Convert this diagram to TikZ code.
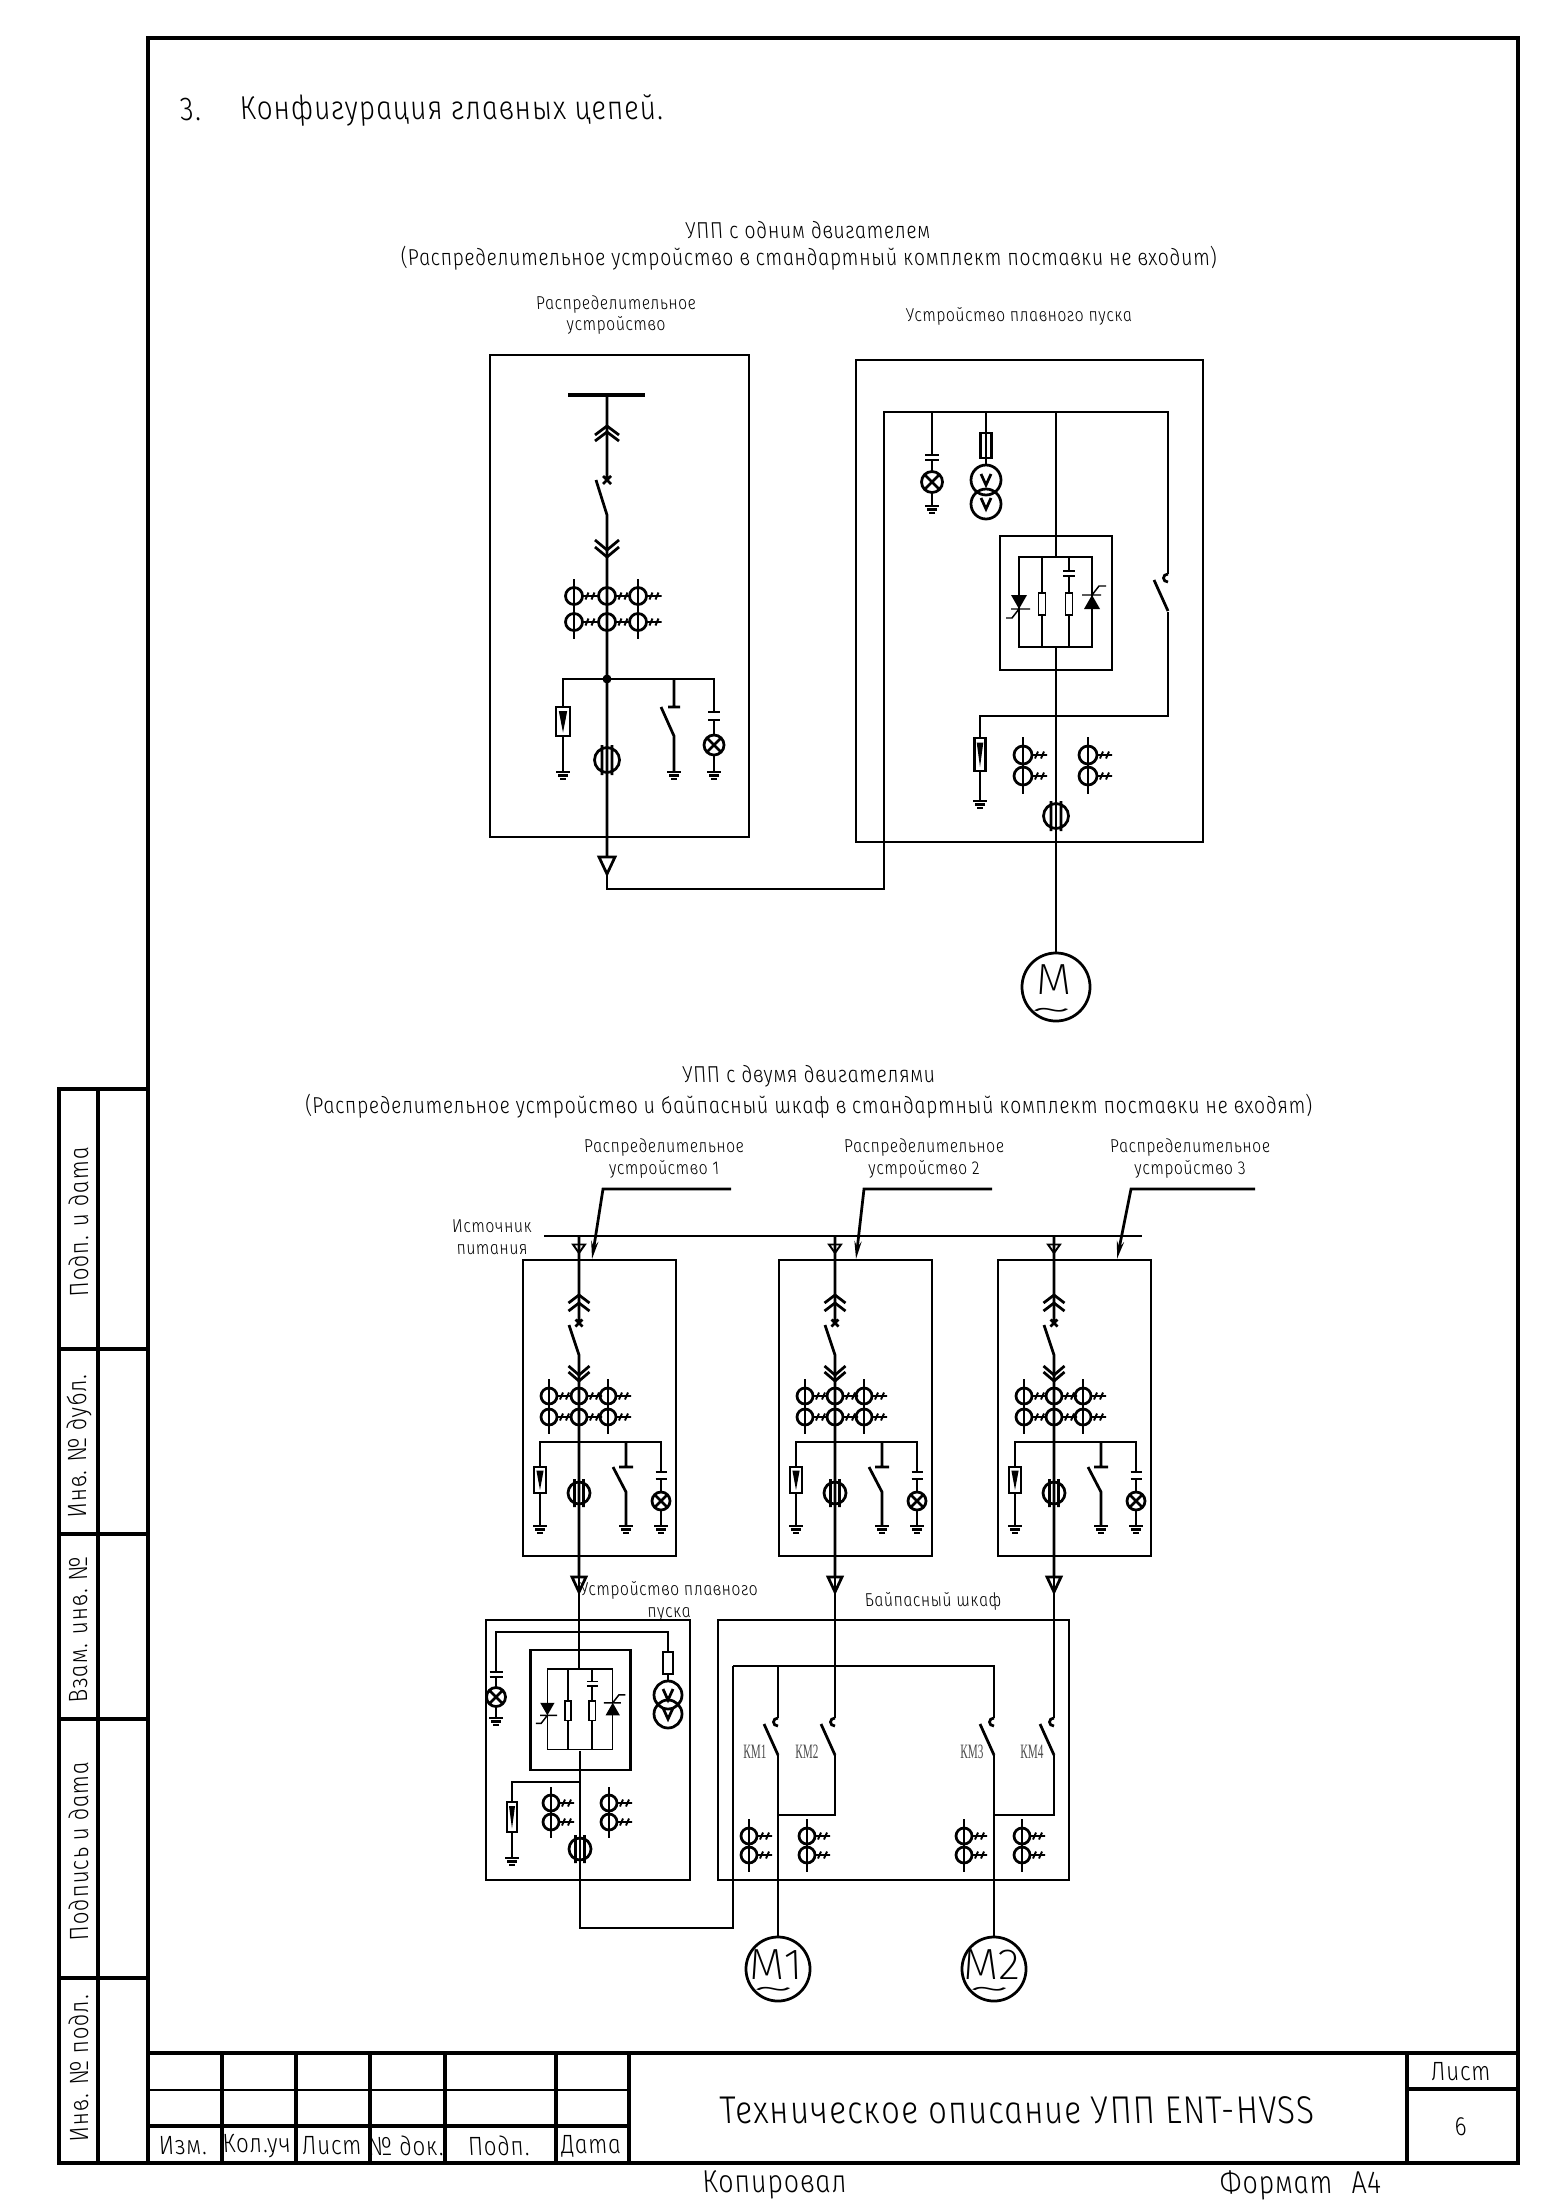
\documentclass[tikz,border=0pt]{standalone}
\usepackage{fontspec}
\newfontfamily\gost[FakeSlant=-0.18,FakeStretch=0.85,LetterSpace=3]{Fira Sans Light Italic}
\newfontfamily\gostthin[FakeSlant=-0.18,FakeStretch=1.05]{Fira Sans ExtraLight Italic}
\newfontfamily\kmfont[FakeStretch=0.55]{Liberation Serif}
\usetikzlibrary{arrows.meta}
\tikzset{
  wire/.style={line width=0.78pt},
  tick/.style={line width=0.55pt},
  hair/.style={line width=0.42pt},
  sheet/.style={line width=1.25pt},
  rowline/.style={line width=0.6pt},
  label/.style={inner sep=0pt,align=center,font=\gost\fontsize{5.3}{6.2}\selectfont},
  head/.style={inner sep=0pt,align=center,font=\gost\fontsize{6.55}{7.5}\selectfont},
  stamp/.style={inner sep=0pt,font=\gost\fontsize{7.5}{8}\selectfont},
  kmtag/.style={inner sep=0pt,text=black!70,font=\kmfont\fontsize{5.8}{6}\selectfont},
  motor/.style={draw,circle,wire,inner sep=0pt,minimum size=#1},
  motorname/.style={inner sep=0pt,font=\gostthin\fontsize{12.4}{13}\selectfont},
  motorwave/.style={inner sep=0pt,xscale=2.4,text height=1pt,text depth=0pt,font=\gostthin\fontsize{11}{12}\selectfont},
  pics/gnd/.style={code={\draw[wire] (-7,0)--(7,0) (-5,3.5)--(5,3.5) (-3,7)--(3,7);}},
  pics/lamp/.style={code={\draw[wire] (0,0) circle (#1) (-#1*.7,-#1*.7)--(#1*.7,#1*.7) (-#1*.7,#1*.7)--(#1*.7,-#1*.7);}},
  pics/plates/.style n args={2}{code={\draw[wire] (-#1,0)--(#1,0) (-#1,#2)--(#1,#2);}},
  pics/arrester/.style n args={2}{code={
    \draw[wire] (-#1,0) rectangle (#1,#2);
    \fill (-#1*.6,#2*.14)--(#1*.6,#2*.14)--(0,#2*.88)--cycle;}},
  pics/ctstack/.style n args={3}{code={
    \foreach \rowy in {0,#2}{
      \draw[wire] (0,\rowy) circle (#1);
      \draw[tick] (#1,\rowy)--++(15,0) (#1+3,\rowy+3.5)--++(3,-7) (#1+9,\rowy+3.5)--++(3,-7);
    }
    \draw[wire] (0,-#3)--(0,#2+#3);}},
  pics/zeroct/.style n args={3}{code={
    \draw[wire] (0,0) circle (#1) (-#2,-#3)--(-#2,#3) (#2,-#3)--(#2,#3);}},
  pics/plugup/.style n args={3}{code={
    \draw[wire] (-#1,#2)--(0,0)--(#1,#2) (-#1,#2+#3)--(0,#3)--(#1,#2+#3);}},
  pics/plugdown/.style n args={3}{code={
    \draw[wire] (-#1,-#2)--(0,0)--(#1,-#2) (-#1,-#2-#3)--(0,-#3)--(#1,-#2-#3);}},
  pics/contact/.style={code={
    \draw[wire] (0,-4) .. controls (-6,-4) and (-6,4) .. (0,4);
    \draw[wire] (0,33)--(-14,2);}},
  pics/softcore/.style={code={
    \draw[wire] (-56,0) rectangle (56,134);
    \draw[hair] (-37,21) rectangle (36,111) (-14,21)--(-14,57) (-14,79)--(-14,111);
    \draw[hair] (13,21)--(13,35) (13,40)--(13,57) (13,79)--(13,111);
    \draw[hair] (-17.5,57) rectangle (-10.5,79) (9.5,57) rectangle (16.5,79);
    \draw[hair] (7,35)--(19,35) (7,40)--(19,40);
    \fill (-45,59)--(-29,59)--(-37,73)--cycle;
    \fill (36,59)--(28,73)--(44,73)--cycle;
    \draw[hair] (-45,73)--(-26,73) (-37,73)--(-44,82)--(-50,82);
    \draw[hair] (26,59)--(45,59) (36,59)--(43,50)--(50,50);}},
  pics/gearcell/.style={code={
    \draw[wire] (-56,0) rectangle (97,296);
    \draw[tick] (-6,-15.5)--(6,-15.5)--(0,-7)--cycle;
    \draw[wire] (0,-24)--(0,63) (-3.5,59.5)--(3.5,66.5) (-3.5,66.5)--(3.5,59.5);
    \draw[wire] (-10,65)--(0,95)--(0,317);
    \pic at (0,35) {plugup={10.5}{8}{8}};
    \pic at (0,121) {plugdown={10.5}{9}{6}};
    \foreach \colx in {-30,0,29}{\pic at (\colx,136) {ctstack={8}{21}{17}};}
    \draw[wire] (-39,207)--(-39,182)--(82,182)--(82,212);
    \pic at (-39,207) {arrester={6}{26}};
    \draw[wire] (-39,233)--(-39,266);
    \pic at (-39,266) {gnd};
    \pic at (0,233) {zeroct={11}{4.5}{14}};
    \draw[wire] (47,182)--(47,207) (40,207)--(54,207) (34,207)--(47,232)--(47,266);
    \pic at (47,266) {gnd};
    \pic at (82,212) {plates={5.5}{7}};
    \draw[wire] (82,219)--(82,232) (82,250)--(82,266);
    \pic at (82,241) {lamp=9};
    \pic at (82,266) {gnd};
    \draw[wire] (-7,317)--(7,317)--(0,332)--cycle;}}
}
\begin{document}
\begin{tikzpicture}[x=0.01cm,y=-0.01cm]
\useasboundingbox (0,0) rectangle (1555,2200);
% sheet frame
\draw[sheet] (148,38) rectangle (1518,2163);
\draw[sheet] (148,1089)--(59,1089)--(59,2163)--(148,2163) (98,1089)--(98,2163);
\foreach \liney in {1349,1534,1719,1978}{\draw[sheet] (59,\liney)--(148,\liney);}
\draw[sheet] (148,2053)--(1518,2053) (148,2126)--(629,2126);
\draw[rowline] (148,2090)--(629,2090);
\foreach \colx in {222,296,370,445,556,629}{\draw[sheet] (\colx,2053)--(\colx,2163);}
\draw[sheet] (1407,2053)--(1407,2163) (1407,2089)--(1518,2089);
% side stamps
\node[stamp,rotate=90] (sideA) at (79,1221) {Подп. и дата};
\node[stamp,rotate=90] (sideB) at (79,1445) {Инв. № дубл.};
\node[stamp,rotate=90] (sideC) at (79,1628) {Взам. инв. №};
\node[stamp,rotate=90] (sideD) at (79,1850) {Подпись и дата};
\node[stamp,rotate=90] (sideE) at (79,2067) {Инв. № подл.};
% title block
\node[stamp] (izm) at (184,2146) {Изм.};
\node[stamp] (kol) at (258,2146) {Кол.уч};
\node[stamp] (lst) at (333,2146) {Лист};
\node[stamp] (ndok) at (407,2146) {№ док.};
\node[stamp] (podp) at (500,2146) {Подп.};
\node[stamp] (data) at (592,2146) {Дата};
\node[stamp] (lstB) at (1462,2072) {Лист};
\node[stamp] (lstN) at (1462,2127) {6};
\node[stamp,font=\gost\fontsize{11}{12}\selectfont] (title) at (1019,2110) {Техническое описание УПП ENT-HVSS};
\node[stamp,font=\gost\fontsize{9}{10}\selectfont] (copied) at (776,2185) {Копировал};
\node[stamp,font=\gost\fontsize{9}{10}\selectfont] (fmt) at (1302,2185) {Формат\hspace{3pt} А4};
% headings
\node[stamp,font=\gost\fontsize{9.4}{10}\selectfont,anchor=west] (secno) at (181,110) {3.};
\node[stamp,font=\gost\fontsize{9.4}{10}\selectfont,anchor=west] (sec) at (241,110) {Конфигурация главных цепей.};
\node[head] (oneA) at (809,230) {УПП с одним двигателем};
\node[head] (oneB) at (810,258) {(Распределительное устройство в стандартный комплект поставки не входит)};
\node[label] (gearA) at (617,315) {Распределительное\\устройство};
\node[label] (softA) at (1020,316) {Устройство плавного пуска};
\node[head] (twoA) at (810,1076) {УПП с двумя двигателями};
\node[head] (twoB) at (810,1106) {(Распределительное устройство и байпасный шкаф в стандартный комплект поставки не входят)};
% one motor: switchgear
\coordinate (busA) at (607,395);
\draw[wire] (490,355) rectangle (749,837);
\draw[line width=1.1pt] (568,395)--(645,395);
\draw[wire] (busA)--(607,480) (603,476)--(611,484) (603,484)--(611,476);
\draw[wire] (596,480)--(607,515)--(607,857);
\pic at (607,426) {plugup={12}{9}{6}};
\pic at (607,557) {plugdown={12}{10}{7}};
\foreach \colx in {574,607,638}{\pic at (\colx,596) {ctstack={8.5}{26}{17}};}
\fill (607,679) circle (4.5);
\draw[wire] (563,707)--(563,679)--(714,679)--(714,712);
\pic at (563,707) {arrester={7}{29}};
\draw[wire] (563,736)--(563,772);
\pic at (563,772) {gnd};
\pic at (607,760) {zeroct={12.5}{5}{15}};
\draw[wire] (674,679)--(674,707) (668,707)--(680,707) (661,707)--(674,736)--(674,772);
\pic at (674,772) {gnd};
\pic at (714,712) {plates={6}{8}};
\draw[wire] (714,720)--(714,735) (714,755)--(714,772);
\pic at (714,745) {lamp=10};
\pic at (714,772) {gnd};
\draw[wire] (599,857)--(615,857)--(607,874)--cycle;
% one motor: soft starter
\coordinate (motA) at (1056,953);
\draw[wire] (856,360) rectangle (1203,842);
\draw[wire] (607,874)--(607,889)--(884,889)--(884,412)--(1168,412)--(1168,574);
\draw[wire] (1056,412)--(1056,557) (1056,647)--(motA);
\pic at (1056,536) {softcore};
\pic at (1168,578) {contact};
\draw[wire] (1168,612)--(1168,716)--(980,716)--(980,738) (980,771)--(980,801);
\pic at (980,738) {arrester={5.5}{33}};
\pic at (980,801) {gnd};
\foreach \colx in {1023,1088}{\pic at (\colx,755) {ctstack={9}{21}{18}};}
\pic at (1056,816) {zeroct={12.5}{5}{15}};
\draw[wire] (932,412)--(932,455) (932,460)--(932,472) (932,493)--(932,506);
\pic at (932,455) {plates={7}{5}};
\pic at (932,482) {lamp=10.5};
\pic at (932,506) {gnd};
\draw[wire] (986,412)--(986,466);
\draw[wire] (980.5,433) rectangle (991.5,458);
\draw[wire] (986,480) circle (15) (986,504) circle (15);
\draw[wire] (981,474)--(986,485)--(991,474) (981,498)--(986,509)--(991,498);
\node[motor=0.68cm] (motorM) at (1056,987) {};
\node[motorname] (nameM) at (1056,980) {M};
\node[motorwave] (waveM) at (1056,1021) {\string~};
% two motors: switchgear
\node[label] (cellA) at (665,1158.5) {Распределительное\\устройство 1};
\node[label] (cellB) at (925,1158.5) {Распределительное\\устройство 2};
\node[label] (cellC) at (1191,1158.5) {Распределительное\\устройство 3};
\node[label] (source) at (493,1237.5) {Источник\\питания};
\coordinate (busB) at (544,1236);
\draw[wire] (busB)--(1142,1236);
\pic at (579,1260) {gearcell};
\pic at (835,1260) {gearcell};
\pic at (1054,1260) {gearcell};
\coordinate (tipA) at (592,1259);
\coordinate (tipB) at (856,1259);
\coordinate (tipC) at (1117,1259);
\draw[wire,-{Stealth[length=5pt,width=2pt]}] (731,1189)--(603,1189)--(tipA);
\draw[wire,-{Stealth[length=5pt,width=2pt]}] (992,1189)--(864,1189)--(tipB);
\draw[wire,-{Stealth[length=5pt,width=2pt]}] (1255,1189)--(1131,1189)--(tipC);
% two motors: soft starter
\node[label] (softB) at (670,1601) {Устройство плавного\\пуска};
\draw[wire] (486,1620) rectangle (690,1880);
\draw[wire] (579,1577)--(579,1670) (580,1751)--(580,1928)--(733,1928)--(733,1666);
\pic[scale=0.895] at (580.5,1650) {softcore};
\draw[wire] (496,1672)--(496,1632)--(668,1632)--(668,1652);
\pic at (496,1672) {plates={6.5}{5}};
\draw[wire] (496,1677)--(496,1688) (496,1707)--(496,1718);
\pic at (496,1697) {lamp=9.5};
\pic at (496,1718) {gnd};
\draw[wire] (663,1652) rectangle (673,1674);
\draw[wire] (668,1674)--(668,1681);
\draw[wire] (668,1695) circle (14) (668,1714) circle (14);
\draw[wire] (663,1689)--(668,1700)--(673,1689) (663,1708)--(668,1719)--(673,1708);
\draw[wire] (580,1782)--(512,1782)--(512,1802) (512,1832)--(512,1858);
\pic at (512,1802) {arrester={5}{30}};
\pic at (512,1858) {gnd};
\foreach \colx in {551,609}{\pic at (\colx,1803) {ctstack={8}{19}{16}};}
\pic at (580,1849) {zeroct={11}{4.5}{14}};
% two motors: bypass
\node[label] (bypass) at (934,1601) {Байпасный шкаф};
\coordinate (motB) at (778,1937);
\coordinate (motC) at (994,1937);
\draw[wire] (718,1620) rectangle (1069,1880);
\draw[wire] (733,1666)--(994,1666)--(994,1718) (778,1666)--(778,1718);
\draw[wire] (778,1755)--(motB) (994,1755)--(motC);
\draw[wire] (835,1577)--(835,1718) (1054,1577)--(1054,1718);
\draw[wire] (835,1755)--(835,1815)--(778,1815) (1054,1755)--(1054,1815)--(994,1815);
\foreach \colx in {778,835,994,1054}{\pic at (\colx,1722) {contact};}
\foreach \colx in {749,807,964,1022}{\pic at (\colx,1836) {ctstack={8}{19}{17}};}
\node[kmtag] (kmA) at (755,1752) {КМ1};
\node[kmtag] (kmB) at (807,1752) {КМ2};
\node[kmtag] (kmC) at (972,1752) {КМ3};
\node[kmtag] (kmD) at (1032,1752) {КМ4};
\node[motor=0.64cm] (motorA) at (778,1969) {};
\node[motorname] (nameA) at (778,1965) {M1};
\node[motorwave] (waveA) at (778,2000) {\string~};
\node[motor=0.64cm] (motorB) at (994,1969) {};
\node[motorname] (nameB) at (994,1965) {M2};
\node[motorwave] (waveB) at (994,2000) {\string~};
\end{tikzpicture}
\end{document}
